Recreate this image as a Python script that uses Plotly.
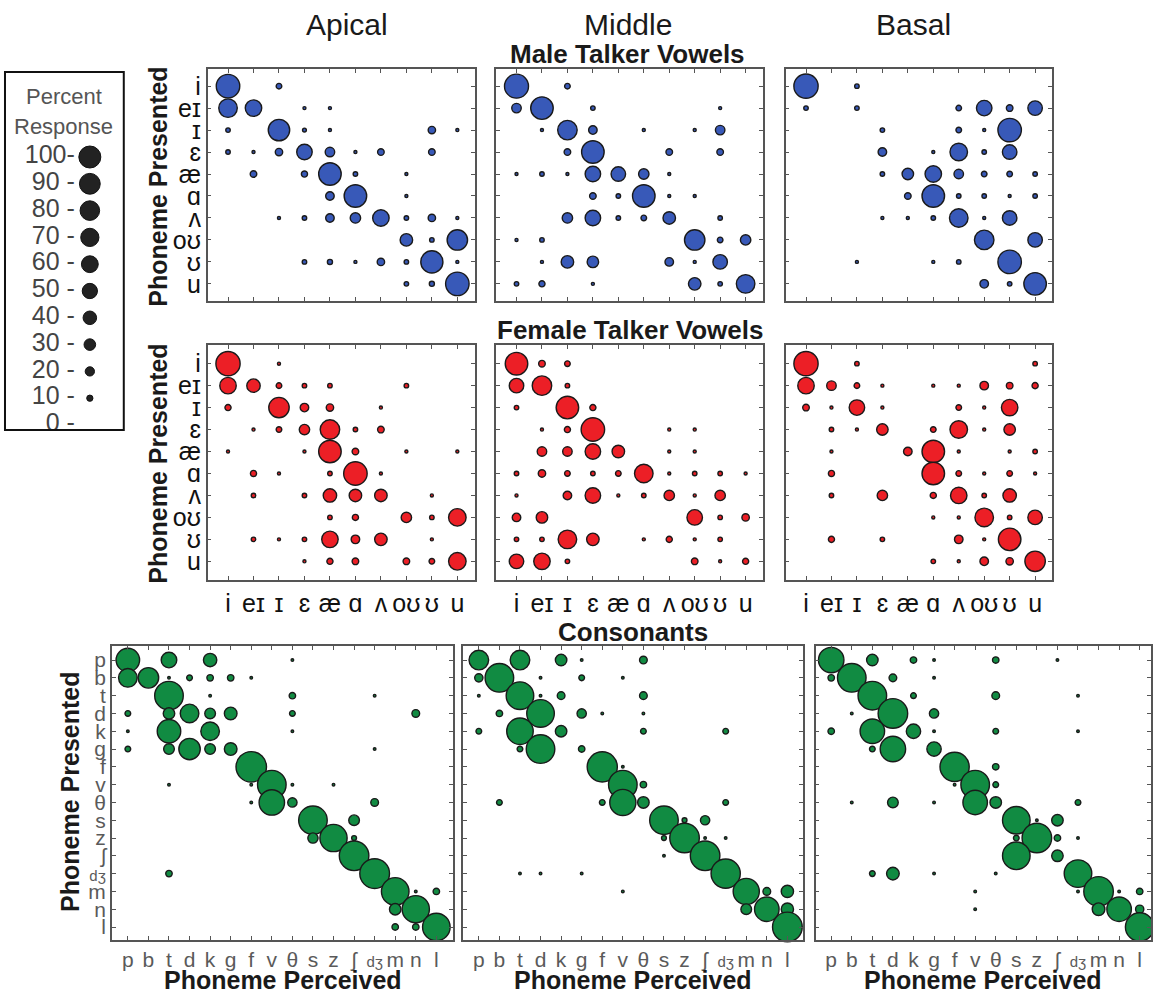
import math
import plotly.graph_objects as go

W, H = 1153, 995

vowels = ["i", "eɪ", "ɪ", "ɛ", "æ", "ɑ", "ʌ", "oʊ", "ʊ", "u"]
consonants = ["p", "b", "t", "d", "k", "g", "f", "v", "θ", "s", "z", "ʃ", "dʒ", "m", "n", "l"]
column_titles = ["Apical", "Middle", "Basal"]
legend_values = [100, 90, 80, 70, 60, 50, 40, 30, 20, 10, 0]
legend_labels = ["100-", "90 -", "80 -", "70 -", "60 -", "50 -", "40 -", "30 -", "20 -", "10 -", "0 -"]

# rows = phoneme presented, columns = phoneme perceived (percent response)
male_apical = [
    [92, 0, 6, 0, 0, 0, 0, 0, 0, 0],
    [58, 46, 0, 2, 2, 0, 0, 0, 0, 0],
    [4, 0, 77, 3, 2, 0, 0, 0, 10, 2],
    [4, 2, 10, 41, 16, 2, 8, 0, 8, 0],
    [0, 8, 0, 7, 85, 4, 0, 2, 0, 0],
    [0, 0, 0, 0, 13, 85, 0, 2, 0, 0],
    [0, 0, 2, 4, 13, 19, 46, 4, 10, 2],
    [0, 0, 0, 0, 0, 0, 0, 27, 4, 70],
    [0, 0, 0, 4, 5, 2, 10, 4, 82, 2],
    [0, 0, 0, 0, 0, 0, 0, 4, 5, 92],
]
male_middle = [
    [96, 0, 6, 0, 0, 0, 0, 0, 0, 0],
    [16, 85, 0, 4, 0, 0, 0, 0, 2, 0],
    [0, 2, 64, 13, 0, 2, 0, 2, 16, 0],
    [0, 0, 8, 85, 0, 0, 8, 0, 8, 0],
    [2, 4, 2, 41, 36, 19, 2, 0, 0, 0],
    [0, 0, 0, 8, 4, 85, 2, 2, 0, 0],
    [0, 0, 19, 41, 4, 6, 27, 0, 4, 0],
    [2, 4, 0, 0, 0, 0, 0, 70, 6, 19],
    [0, 2, 27, 23, 0, 0, 13, 2, 36, 0],
    [4, 7, 0, 2, 0, 0, 0, 27, 4, 58],
]
male_basal = [
    [98, 0, 4, 0, 0, 0, 0, 0, 0, 0],
    [4, 0, 4, 0, 0, 0, 6, 41, 8, 36],
    [0, 0, 0, 4, 0, 0, 6, 2, 92, 0],
    [0, 0, 0, 13, 0, 2, 52, 4, 36, 0],
    [0, 0, 0, 4, 23, 46, 16, 6, 6, 4],
    [0, 0, 0, 0, 8, 85, 4, 4, 2, 4],
    [0, 0, 0, 2, 2, 4, 58, 2, 36, 0],
    [0, 0, 0, 0, 0, 0, 0, 64, 0, 36],
    [0, 0, 2, 0, 0, 2, 4, 0, 92, 0],
    [0, 0, 0, 0, 0, 0, 0, 13, 4, 85],
]
female_apical = [
    [98, 0, 2, 0, 0, 0, 0, 0, 0, 0],
    [46, 31, 6, 4, 4, 0, 0, 4, 0, 0],
    [7, 0, 70, 13, 10, 0, 2, 0, 0, 0],
    [0, 2, 6, 19, 64, 4, 8, 0, 0, 0],
    [2, 0, 0, 2, 85, 8, 0, 2, 0, 2],
    [0, 7, 2, 0, 4, 92, 2, 0, 0, 0],
    [0, 4, 0, 4, 31, 27, 27, 0, 2, 0],
    [0, 0, 0, 0, 4, 7, 0, 19, 4, 52],
    [0, 4, 2, 4, 46, 13, 27, 0, 2, 0],
    [0, 0, 0, 2, 7, 8, 0, 8, 6, 52],
]
female_middle = [
    [85, 8, 6, 0, 0, 0, 0, 0, 0, 0],
    [36, 64, 4, 0, 0, 0, 0, 0, 0, 0],
    [4, 0, 85, 7, 0, 0, 0, 0, 0, 0],
    [0, 2, 7, 92, 0, 0, 2, 2, 0, 0],
    [0, 16, 16, 41, 27, 0, 2, 2, 0, 0],
    [4, 10, 6, 4, 6, 58, 2, 4, 4, 2],
    [2, 0, 13, 41, 2, 4, 19, 2, 19, 0],
    [13, 23, 0, 0, 0, 0, 0, 41, 4, 10],
    [4, 4, 58, 27, 0, 2, 7, 2, 4, 0],
    [36, 46, 4, 0, 0, 0, 0, 8, 2, 7],
]
female_basal = [
    [98, 0, 4, 0, 0, 0, 0, 0, 0, 4],
    [46, 16, 6, 2, 0, 2, 2, 13, 8, 7],
    [8, 2, 41, 2, 0, 0, 6, 2, 46, 0],
    [0, 4, 2, 23, 0, 6, 52, 2, 23, 0],
    [0, 2, 0, 0, 13, 85, 2, 0, 2, 4],
    [0, 7, 0, 0, 0, 85, 6, 2, 6, 2],
    [0, 4, 0, 19, 0, 7, 46, 4, 31, 0],
    [0, 0, 0, 0, 0, 2, 2, 58, 4, 36],
    [0, 7, 0, 4, 0, 0, 13, 2, 85, 0],
    [0, 0, 0, 0, 0, 4, 2, 13, 10, 70],
]
cons_apical = [
    [60, 0, 27, 0, 20, 0, 0, 0, 1, 0, 0, 0, 0, 0, 0, 0],
    [38, 46, 1, 4, 5, 5, 1, 0, 0, 0, 0, 0, 0, 0, 0, 0],
    [0, 0, 88, 0, 1, 0, 0, 0, 5, 0, 0, 0, 1, 0, 0, 0],
    [4, 0, 15, 38, 13, 18, 0, 0, 4, 0, 0, 0, 0, 0, 7, 0],
    [1, 0, 60, 0, 38, 0, 0, 0, 1, 0, 0, 0, 0, 0, 0, 0],
    [4, 0, 13, 50, 13, 18, 0, 0, 0, 0, 0, 0, 1, 0, 0, 0],
    [0, 0, 0, 0, 0, 0, 100, 0, 0, 0, 0, 0, 0, 0, 0, 0],
    [0, 0, 1, 0, 0, 0, 1, 88, 1, 0, 1, 0, 0, 0, 0, 0],
    [0, 0, 0, 0, 0, 0, 1, 70, 10, 0, 0, 0, 7, 0, 0, 0],
    [0, 0, 0, 0, 0, 0, 0, 0, 0, 88, 0, 13, 0, 0, 0, 0],
    [0, 0, 0, 0, 0, 0, 0, 0, 0, 12, 80, 3, 0, 0, 0, 0],
    [0, 0, 0, 0, 0, 0, 0, 0, 0, 0, 0, 94, 0, 0, 0, 0],
    [0, 0, 5, 0, 0, 0, 0, 0, 0, 0, 0, 0, 95, 0, 0, 0],
    [0, 0, 0, 0, 0, 0, 0, 0, 0, 0, 0, 0, 0, 82, 1, 5],
    [0, 0, 0, 0, 0, 0, 0, 0, 0, 0, 0, 0, 0, 15, 80, 0],
    [0, 0, 0, 0, 0, 0, 0, 0, 0, 0, 0, 0, 0, 5, 5, 82],
]
cons_middle = [
    [42, 0, 42, 0, 15, 1, 0, 0, 7, 0, 0, 0, 0, 0, 0, 0],
    [8, 88, 0, 1, 0, 4, 0, 1, 0, 0, 0, 0, 0, 0, 0, 0],
    [1, 0, 82, 1, 7, 0, 0, 0, 7, 0, 0, 0, 0, 0, 0, 0],
    [0, 5, 0, 82, 0, 10, 1, 0, 1, 0, 0, 0, 0, 0, 0, 0],
    [4, 0, 76, 0, 15, 0, 0, 0, 4, 0, 0, 0, 4, 0, 0, 0],
    [0, 0, 4, 88, 0, 5, 0, 0, 0, 0, 0, 0, 0, 0, 0, 0],
    [0, 0, 0, 0, 0, 0, 98, 1, 0, 0, 0, 0, 0, 0, 0, 0],
    [0, 0, 0, 0, 0, 0, 0, 88, 5, 0, 0, 0, 0, 0, 0, 0],
    [0, 4, 0, 0, 0, 0, 4, 74, 15, 0, 0, 0, 4, 0, 0, 0],
    [0, 0, 0, 0, 0, 0, 0, 0, 0, 88, 3, 10, 0, 0, 0, 0],
    [0, 0, 0, 0, 0, 0, 0, 0, 0, 3, 94, 1, 1, 0, 0, 0],
    [0, 0, 0, 0, 0, 0, 0, 0, 0, 1, 0, 94, 0, 0, 0, 0],
    [0, 0, 1, 1, 0, 1, 0, 0, 0, 0, 0, 0, 92, 0, 0, 0],
    [0, 0, 0, 0, 0, 0, 0, 1, 0, 0, 0, 0, 0, 74, 7, 17],
    [0, 0, 0, 0, 0, 0, 0, 0, 0, 0, 0, 0, 0, 13, 65, 17],
    [0, 0, 0, 0, 0, 0, 0, 0, 0, 0, 0, 0, 0, 0, 0, 95],
]
cons_basal = [
    [70, 0, 15, 0, 5, 1, 0, 0, 5, 0, 0, 1, 0, 0, 0, 0],
    [5, 88, 0, 7, 0, 1, 0, 0, 0, 0, 0, 0, 0, 0, 0, 0],
    [0, 0, 88, 0, 4, 0, 0, 0, 7, 0, 0, 0, 1, 0, 0, 0],
    [0, 1, 0, 94, 0, 10, 0, 0, 0, 0, 0, 0, 0, 0, 0, 0],
    [5, 0, 65, 0, 23, 1, 0, 0, 4, 0, 0, 0, 1, 0, 0, 0],
    [0, 0, 4, 70, 0, 23, 0, 0, 0, 0, 0, 0, 0, 0, 0, 0],
    [0, 0, 0, 0, 0, 0, 92, 0, 5, 0, 0, 0, 0, 0, 0, 0],
    [0, 0, 0, 0, 0, 0, 1, 88, 4, 0, 0, 0, 0, 0, 0, 0],
    [0, 1, 0, 13, 0, 1, 0, 65, 15, 0, 0, 0, 4, 0, 0, 0],
    [0, 0, 0, 0, 0, 0, 0, 0, 0, 82, 1, 15, 0, 0, 0, 0],
    [0, 0, 0, 0, 0, 0, 0, 0, 0, 4, 94, 5, 1, 0, 0, 0],
    [0, 0, 0, 0, 0, 0, 0, 0, 0, 82, 0, 15, 0, 0, 0, 0],
    [0, 0, 4, 18, 0, 1, 0, 0, 1, 0, 0, 0, 82, 0, 0, 0],
    [0, 0, 0, 0, 0, 0, 0, 1, 0, 0, 0, 0, 1, 94, 1, 5],
    [0, 0, 0, 0, 0, 0, 0, 1, 0, 0, 0, 0, 0, 18, 65, 8],
    [0, 0, 0, 0, 0, 0, 0, 0, 0, 0, 0, 0, 0, 0, 0, 88],
]

FONT = "Liberation Sans, Arial, Helvetica, sans-serif"
BLUE = "#3859b8"
RED = "#ec1f26"
GREEN = "#118b42"
EDGE = "#1a1a1a"
FRAME = "#555555"


def fx(px):
    return px / W


def fy(px):
    return 1 - px / H


cons_ticktext = [("<span style='font-size:15px'>" + c + "</span>") if c == "dʒ" else c
                 for c in consonants]

# panel definitions: matrix, labels, color, bubble diameter at 100%, x px, y px, ranges, label flags
panels = [
    (male_apical, vowels, BLUE, 25, (208, 476), (69, 301), (-0.8, 9.7), (9.78, -0.78), False, True),
    (male_middle, vowels, BLUE, 25, (497, 764), (69, 301), (-0.8, 9.67), (9.78, -0.78), False, False),
    (male_basal, vowels, BLUE, 25, (787, 1054), (69, 301), (-0.8, 9.67), (9.78, -0.78), False, False),
    (female_apical, vowels, RED, 25, (208, 476), (345, 580), (-0.8, 9.7), (9.85, -0.85), True, True),
    (female_middle, vowels, RED, 25, (497, 764), (345, 580), (-0.8, 9.67), (9.85, -0.85), True, False),
    (female_basal, vowels, RED, 25, (787, 1054), (345, 580), (-0.8, 9.67), (9.85, -0.85), True, False),
    (cons_apical, consonants, GREEN, 31, (112, 454), (646, 940), (-0.78, 15.82), (15.73, -0.79), True, True),
    (cons_middle, consonants, GREEN, 31, (464, 804), (646, 940), (-0.76, 15.74), (15.73, -0.79), True, False),
    (cons_basal, consonants, GREEN, 31, (817, 1153), (646, 940), (-0.76, 15.55), (15.73, -0.79), True, False),
]

fig = go.Figure()
layout_axes = {}

for k, (mat, labels, color, dmax, xpx, ypx, xr, yr, showx, showy) in enumerate(panels, start=1):
    xs, ys, vals = [], [], []
    for r, row in enumerate(mat):
        for c, v in enumerate(row):
            if v > 0:
                xs.append(c)
                ys.append(r)
                vals.append(v)
    sizes = [max(dmax * math.sqrt(v / 100.0) - 0.5, 1.8) for v in vals]
    xa = "x" if k == 1 else f"x{k}"
    ya = "y" if k == 1 else f"y{k}"
    fig.add_trace(go.Scatter(
        x=xs, y=ys, mode="markers", xaxis=xa, yaxis=ya, cliponaxis=False,
        showlegend=False, hoverinfo="skip",
        marker=dict(size=sizes, color=color, symbol="circle", opacity=1,
                    line=dict(color=EDGE, width=1.4)),
    ))
    big = [(x, y, s) for x, y, s in zip(xs, ys, sizes) if s > 9]
    if big:
        fig.add_trace(go.Scatter(
            x=[b[0] for b in big], y=[b[1] for b in big], mode="markers",
            xaxis=xa, yaxis=ya, cliponaxis=False, showlegend=False, hoverinfo="skip",
            marker=dict(size=[b[2] - 3 for b in big], symbol="asterisk-open", opacity=1,
                        color="rgba(255,255,255,0)",
                        line=dict(color="rgba(255,255,255,0.3)", width=0.8)),
        ))
    is_cons = labels is consonants
    tick_color = "#5a5a5a" if is_cons else "#111111"
    ttext = cons_ticktext if is_cons else labels
    common = dict(showline=True, linecolor=FRAME, linewidth=1.5, mirror="ticks",
                  ticks="inside", ticklen=4, tickwidth=1, tickcolor=FRAME,
                  showgrid=False, zeroline=False, fixedrange=True,
                  tickvals=list(range(len(labels))), ticktext=ttext)
    kx = "xaxis" if k == 1 else f"xaxis{k}"
    ky = "yaxis" if k == 1 else f"yaxis{k}"
    layout_axes[kx] = dict(common, domain=[fx(xpx[0]), fx(xpx[1])], range=list(xr),
                           anchor=ya, showticklabels=showx,
                           tickfont=dict(family=FONT, size=21 if is_cons else 25, color=tick_color))
    layout_axes[ky] = dict(common, domain=[fy(ypx[1]), fy(ypx[0])], range=list(yr),
                           anchor=xa, showticklabels=showy,
                           tickfont=dict(family=FONT, size=21 if is_cons else 25, color=tick_color))

# Legend panel (percent response scale)
lk = len(panels) + 1
lx0, lx1 = 10, 120
lsizes = [23 * math.sqrt(v / 100.0) - 1.0 if v > 0 else 0 for v in legend_values]
fig.add_trace(go.Scatter(
    x=[(90 - lx0) / (lx1 - lx0)] * len(legend_values), y=legend_values,
    mode="markers", xaxis=f"x{lk}", yaxis=f"y{lk}", cliponaxis=False,
    showlegend=False, hoverinfo="skip",
    marker=dict(size=lsizes, color="#222222", opacity=1, line=dict(color="#111111", width=1)),
))
fig.add_trace(go.Scatter(
    x=[(75 - lx0) / (lx1 - lx0)] * len(legend_values), y=legend_values,
    mode="text", text=legend_labels, textposition="middle left",
    xaxis=f"x{lk}", yaxis=f"y{lk}", cliponaxis=False,
    showlegend=False, hoverinfo="skip",
    textfont=dict(family=FONT, size=25, color="#444444"),
))
layout_axes[f"xaxis{lk}"] = dict(domain=[fx(lx0), fx(lx1)], range=[0, 1], visible=False,
                                  anchor=f"y{lk}", fixedrange=True)
layout_axes[f"yaxis{lk}"] = dict(domain=[fy(438.4), fy(143.6)], range=[-5, 105], visible=False,
                                  anchor=f"x{lk}", fixedrange=True)

annotations = []


def ann(text, x, y, size, bold=False, angle=0, color="#1a1a1a"):
    annotations.append(dict(
        text=f"<b>{text}</b>" if bold else text, x=fx(x), y=fy(y), xref="paper", yref="paper",
        xanchor="center", yanchor="middle", showarrow=False, textangle=angle,
        font=dict(family=FONT, size=size, color=color)))


for title, cx in zip(column_titles, [348, 629, 915]):
    ann(title, cx, 25, 30)
ann("Male Talker Vowels", 629, 54, 26, bold=True)
ann("Female Talker Vowels", 631, 330, 26, bold=True)
ann("Consonants", 634, 632, 26, bold=True)
ann("Phoneme Presented", 158, 187, 25, bold=True, angle=-90)
ann("Phoneme Presented", 158, 464, 25, bold=True, angle=-90)
ann("Phoneme Presented", 70, 792, 25, bold=True, angle=-90)
for cx in [283, 634, 985]:
    ann("Phoneme Perceived", cx, 980, 25, bold=True)
ann("Percent", 64, 96, 22, color="#555555")
ann("Response", 64, 126, 22, color="#555555")

shapes = [dict(type="rect", xref="paper", yref="paper", x0=fx(5), x1=fx(124),
               y0=fy(430), y1=fy(72), line=dict(color="#111111", width=2))]

fig.update_layout(
    width=W, height=H, margin=dict(l=0, r=0, t=0, b=0),
    paper_bgcolor="white", plot_bgcolor="white",
    font=dict(family=FONT, color="#1a1a1a"),
    annotations=annotations, shapes=shapes, showlegend=False,
    **layout_axes,
)

fig.write_html("out.html", config={"displayModeBar": False},
               post_script="document.body.style.margin='0px';")
